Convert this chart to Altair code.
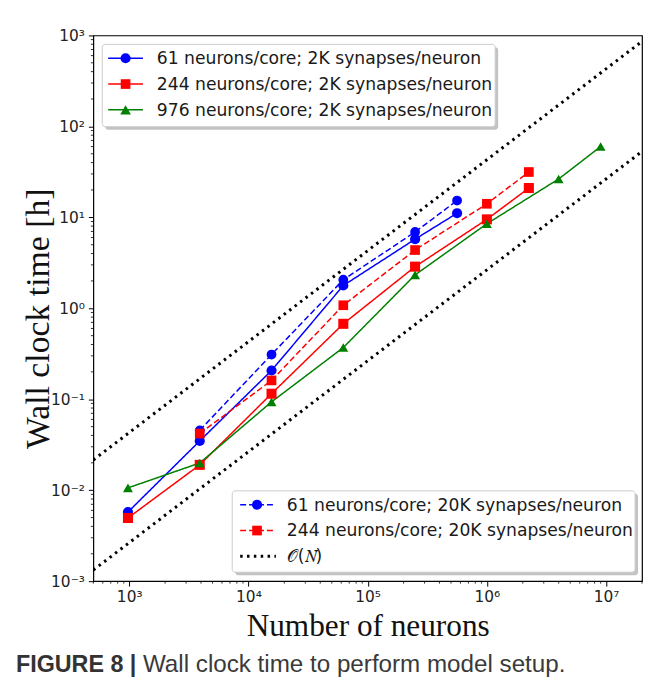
import altair as alt
import pandas as pd

# ---------------- data ----------------
n_b2 = [976, 3904, 15616, 62464, 249856, 562176]
t_b2 = [0.00575, 0.0348, 0.207, 1.78, 5.75, 11.1]
n_r2 = [976, 3904, 15616, 62464, 249856, 999424, 2248704]
t_r2 = [0.00495, 0.019, 0.115, 0.675, 2.87, 9.5, 21.0]
n_g2 = [976, 3904, 15616, 62464, 249856, 999424, 3997696, 8994816]
t_g2 = [0.0106, 0.0199, 0.0935, 0.37, 2.33, 8.5, 26.4, 60.0]
n_b20 = [3904, 15616, 62464, 249856, 562176]
t_b20 = [0.0455, 0.31, 2.06, 6.9, 15.3]
n_r20 = [3904, 15616, 62464, 249856, 999424, 2248704]
t_r20 = [0.042, 0.161, 1.08, 4.37, 14.1, 31.5]

on_n = [500, 2e7]
on_upper_coef = 4.3e-5
on_lower_coef = 2.65e-6

series_keys = ["b2", "r2", "g2", "b20", "r20"]
series_colors = ["#0000ff", "#ff0000", "#008000", "#0000ff", "#ff0000"]
series_shapes = ["circle", "square", "triangle-up", "circle", "square"]
series_sizes = [105, 95, 115, 105, 95]
series_dash = [[1, 0], [1, 0], [1, 0], [6, 3], [6, 3]]

leg1_labels = ["61 neurons/core; 2K synapses/neuron",
               "244 neurons/core; 2K synapses/neuron",
               "976 neurons/core; 2K synapses/neuron"]
leg2_labels = ["61 neurons/core; 20K synapses/neuron",
               "244 neurons/core; 20K synapses/neuron",
               "\U0001D4AA(\U0001D441)"]

x_major = [1e3, 1e4, 1e5, 1e6, 1e7]
x_major_text = ["10³", "10⁴", "10⁵", "10⁶", "10⁷"]
y_major = [1e-3, 1e-2, 1e-1, 1e0, 1e1, 1e2, 1e3]
y_major_text = ["10⁻³", "10⁻²", "10⁻¹", "10⁰", "10¹", "10²", "10³"]

x_title = "Number of neurons"
y_title = "Wall clock time [h]"
caption_bold = "FIGURE 8 |"
caption_text = "Wall clock time to perform model setup."

# ---------------- frames ----------------
rows = []
for key, ns, ts in [("b2", n_b2, t_b2), ("r2", n_r2, t_r2), ("g2", n_g2, t_g2),
                    ("b20", n_b20, t_b20), ("r20", n_r20, t_r20)]:
    for n, t in zip(ns, ts):
        rows.append({"series": key, "N": n, "t": t})
df = pd.DataFrame(rows)

on_rows = []
for name, c in [("upper", on_upper_coef), ("lower", on_lower_coef)]:
    for n in on_n:
        on_rows.append({"line": name, "N": n, "t": c * n})
df_on = pd.DataFrame(on_rows)

x_minor = [m * 10 ** k for k in range(2, 8) for m in range(2, 10) if 500 <= m * 10 ** k <= 2e7]
y_minor = [m * 10.0 ** k for k in range(-3, 3) for m in range(2, 10)]

W, H = 553, 550
xs = alt.Scale(type="log", domain=[500, 2e7], nice=False)
ys = alt.Scale(type="log", domain=[1e-3, 1e3], nice=False)

x_label_expr = "[" + ",".join("'%s'" % s for s in x_major_text) + "][round(log(datum.value)/LN10) - 3]"
y_label_expr = "[" + ",".join("'%s'" % s for s in y_major_text) + "][round(log(datum.value)/LN10) + 3]"

tick_font = "DejaVu Sans"
serif = "Liberation Serif"

on_lines = alt.Chart(df_on).mark_line(
    color="black", strokeWidth=3, strokeDash=[2.5, 4.4], clip=True
).encode(
    x=alt.X("N:Q", scale=xs,
            axis=alt.Axis(values=x_major, labelExpr=x_label_expr, title=x_title,
                          tickSize=5, labelPadding=4, labelFont=tick_font, labelFontSize=15.5,
                          labelColor="#222", titleFont=serif, titleFontSize=31.5,
                          titleFontWeight="normal", titleColor="#111",
                          titleY=55, titleBaseline="alphabetic", grid=False, domain=False)),
    y=alt.Y("t:Q", scale=ys,
            axis=alt.Axis(values=y_major, labelExpr=y_label_expr, title=y_title,
                          tickSize=5, labelPadding=4, labelFont=tick_font, labelFontSize=15.5,
                          labelColor="#222", titleFont=serif, titleFontSize=34,
                          titleFontWeight="normal", titleColor="#111",
                          titleX=-45, titleY=285, titleAlign="center",
                          titleBaseline="alphabetic", grid=False, domain=False)),
    detail="line:N",
)

series_lines = alt.Chart(df).mark_line(strokeWidth=1.5, clip=True).encode(
    x=alt.X("N:Q", scale=xs),
    y=alt.Y("t:Q", scale=ys),
    color=alt.Color("series:N", scale=alt.Scale(domain=series_keys, range=series_colors), legend=None),
    strokeDash=alt.StrokeDash("series:N", scale=alt.Scale(domain=series_keys, range=series_dash), legend=None),
    detail="series:N",
)

series_points = alt.Chart(df).mark_point(filled=True, opacity=1).encode(
    x=alt.X("N:Q", scale=xs),
    y=alt.Y("t:Q", scale=ys),
    color=alt.Color("series:N", scale=alt.Scale(domain=series_keys, range=series_colors), legend=None),
    shape=alt.Shape("series:N", scale=alt.Scale(domain=series_keys, range=series_shapes), legend=None),
    size=alt.Size("series:N", scale=alt.Scale(domain=series_keys, range=series_sizes), legend=None),
)

minor_x = alt.Chart(pd.DataFrame({"v": x_minor})).mark_rule(color="black", strokeWidth=0.8).encode(
    x=alt.X("v:Q", scale=xs), y=alt.value(H), y2=alt.value(H + 2.5))
minor_y = alt.Chart(pd.DataFrame({"v": y_minor})).mark_rule(color="black", strokeWidth=0.8).encode(
    y=alt.Y("v:Q", scale=ys), x=alt.value(0), x2=alt.value(-2.5))

one = pd.DataFrame({"a": [0]})


def legend(box, rows_y, labels, colors, shapes, sizes, dashes, sample_x, text_x):
    x0, y0, x1, y1 = box
    layers = [
        alt.Chart(one).mark_rect(color="#888", opacity=0.5, cornerRadius=3).encode(
            x=alt.value(x0 + 3), x2=alt.value(x1 + 3), y=alt.value(y0 + 3), y2=alt.value(y1 + 3)),
        alt.Chart(one).mark_rect(fill="white", stroke="#cccccc", strokeWidth=1, cornerRadius=3).encode(
            x=alt.value(x0), x2=alt.value(x1), y=alt.value(y0), y2=alt.value(y1)),
    ]
    for py, lab, col, shp, sz, dsh in zip(rows_y, labels, colors, shapes, sizes, dashes):
        if dsh == "dot":
            layers.append(alt.Chart(one).mark_rule(color="black", strokeWidth=3, strokeDash=[2.5, 4.4]).encode(
                x=alt.value(sample_x[0]), x2=alt.value(sample_x[1] + 2), y=alt.value(py)))
        else:
            layers.append(alt.Chart(one).mark_rule(color=col, strokeWidth=1.5, strokeDash=dsh).encode(
                x=alt.value(sample_x[0]), x2=alt.value(sample_x[1]), y=alt.value(py)))
        if shp:
            layers.append(alt.Chart(one).mark_point(filled=True, opacity=1, color=col, shape=shp, size=sz).encode(
                x=alt.value((sample_x[0] + sample_x[1]) / 2), y=alt.value(py)))
        layers.append(alt.Chart(pd.DataFrame({"label": [lab]})).mark_text(
            align="left", baseline="middle", font="DejaVu Sans", fontSize=17.3, color="#1a1a1a").encode(
            x=alt.value(text_x), y=alt.value(py + 1), text="label:N"))
    return layers


leg1 = legend((9, 9, 405, 92), [23, 49, 75], leg1_labels, series_colors[:3], series_shapes[:3],
              series_sizes[:3], series_dash[:3], (15, 50), 64)
leg2 = legend((140, 459, 546, 541), [473, 499, 525], leg2_labels,
              [series_colors[3], series_colors[4], "black"], [series_shapes[3], series_shapes[4], None],
              [series_sizes[3], series_sizes[4], 0], [series_dash[3], series_dash[4], "dot"], (148, 182), 195)

cap1 = alt.Chart(pd.DataFrame({"label": [caption_bold]})).mark_text(
    align="left", baseline="alphabetic", font="Liberation Sans", fontSize=23.5, fontWeight="bold",
    color="#333").encode(x=alt.value(-78), y=alt.value(642), text="label:N")
cap2 = alt.Chart(pd.DataFrame({"label": [caption_text]})).mark_text(
    align="left", baseline="alphabetic", font="Liberation Sans", fontSize=24.4, color="#3a3a3a").encode(
    x=alt.value(50), y=alt.value(642), text="label:N")

chart = alt.layer(
    on_lines, series_lines, series_points, minor_x, minor_y, *leg1, *leg2, cap1, cap2
).properties(
    width=W, height=H,
    autosize=alt.AutoSizeParams(type="none"),
    padding={"left": 86, "top": 25, "right": 2, "bottom": 100},
).configure_view(stroke="black", strokeWidth=1.2).configure_axis(
    tickColor="black", tickWidth=1
)

chart.save("out.html", embed_options={"renderer": "svg", "actions": False})
